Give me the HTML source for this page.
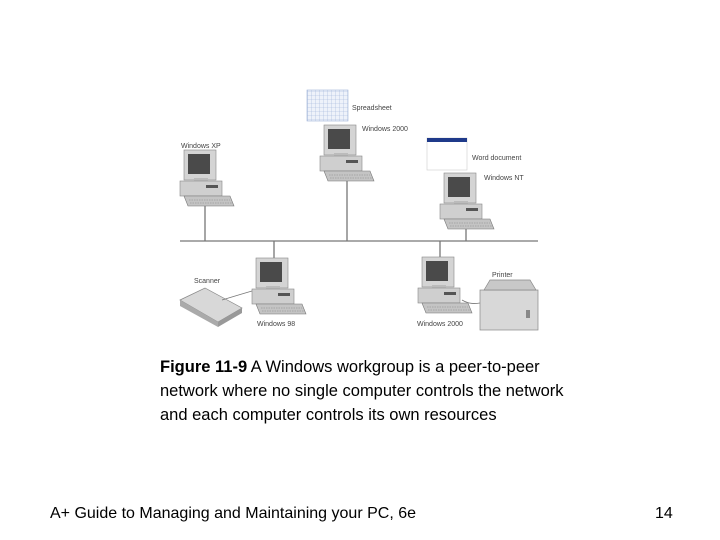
<!DOCTYPE html>
<html><head><meta charset="utf-8"><style>
body{margin:0;background:#fff;width:720px;height:540px;overflow:hidden;position:relative;font-family:"Liberation Sans",sans-serif}
.cap{position:absolute;left:160px;top:355px;font-size:16.5px;line-height:24px;color:#000}
.foot{position:absolute;top:505px;font-size:16px;color:#000}
</style></head><body>
<svg width="720" height="540" style="position:absolute;left:0;top:0">
<defs>
<g id="pc">
<rect x="4" y="0" width="32" height="30" fill="#d4d4d4" stroke="#888" stroke-width="0.6"/>
<rect x="8" y="4" width="22" height="20" fill="#4a4a4a"/>
<rect x="14" y="28" width="14" height="4" fill="#bbb"/>
<rect x="0" y="31" width="42" height="15" fill="#cfcfcf" stroke="#888" stroke-width="0.6"/>
<rect x="26" y="35" width="12" height="3" fill="#555"/>
<polygon points="4,46 50,46 54,56 8,56" fill="#c4c4c4" stroke="#777" stroke-width="0.6"/>
<line x1="9" y1="50" x2="50" y2="50" stroke="#888" stroke-width="0.6" stroke-dasharray="1.5,1"/>
<line x1="10" y1="53" x2="52" y2="53" stroke="#888" stroke-width="0.6" stroke-dasharray="1.5,1"/>
</g>
<pattern id="grid" width="4" height="4" patternUnits="userSpaceOnUse"><path d="M4 0V4H0" fill="none" stroke="#9fb3d8" stroke-width="0.6"/></pattern>
</defs>
<g stroke="#777" stroke-width="1.3">
<line x1="180" y1="241" x2="538" y2="241"/>
<line x1="205" y1="204" x2="205" y2="241"/>
<line x1="347" y1="179" x2="347" y2="241"/>
<line x1="466" y1="228" x2="466" y2="241"/>
<line x1="274" y1="241" x2="274" y2="259"/>
<line x1="440" y1="241" x2="440" y2="258"/>
</g>
<use href="#pc" x="180" y="150"/>
<use href="#pc" x="320" y="125"/>
<use href="#pc" x="440" y="173"/>
<use href="#pc" x="252" y="258"/>
<use href="#pc" x="418" y="257"/>
<rect x="307" y="90" width="41" height="31" fill="#eef2fa" stroke="#9fb3d8" stroke-width="0.6"/>
<rect x="307" y="90" width="41" height="31" fill="url(#grid)"/>
<rect x="427" y="138" width="40" height="32" fill="#fff" stroke="#ccc" stroke-width="0.6"/>
<rect x="427" y="138" width="40" height="4" fill="#1f3a8a"/>
<polygon points="180,300 205,288 242,308 218,322" fill="#d8d8d8" stroke="#888" stroke-width="0.7"/>
<polygon points="180,300 218,322 218,327 180,306" fill="#aaa"/>
<polygon points="218,322 242,308 242,313 218,327" fill="#999"/>
<path d="M222 300 Q235 296 252 291" fill="none" stroke="#777" stroke-width="0.8"/>
<rect x="480" y="290" width="58" height="40" fill="#d8d8d8" stroke="#888" stroke-width="0.7"/>
<polygon points="484,290 490,280 530,280 536,290" fill="#c8c8c8" stroke="#888" stroke-width="0.7"/>
<rect x="526" y="310" width="4" height="8" fill="#888"/>
<path d="M462 300 Q470 305 480 303" fill="none" stroke="#777" stroke-width="0.8"/>
<g font-family="Liberation Sans,sans-serif" font-size="7" fill="#444">
<text x="352" y="110">Spreadsheet</text>
<text x="362" y="131">Windows 2000</text>
<text x="181" y="148">Windows XP</text>
<text x="472" y="160">Word document</text>
<text x="484" y="180">Windows NT</text>
<text x="194" y="283">Scanner</text>
<text x="492" y="277">Printer</text>
<text x="257" y="326">Windows 98</text>
<text x="417" y="326">Windows 2000</text>
</g>
</svg>
<div class="cap"><b>Figure 11-9</b> A Windows workgroup is a peer-to-peer<br>network where no single computer controls the network<br>and each computer controls its own resources</div>
<div class="foot" style="left:50px">A+ Guide to Managing and Maintaining your PC, 6e</div>
<div class="foot" style="left:655px">14</div>
</body></html>
